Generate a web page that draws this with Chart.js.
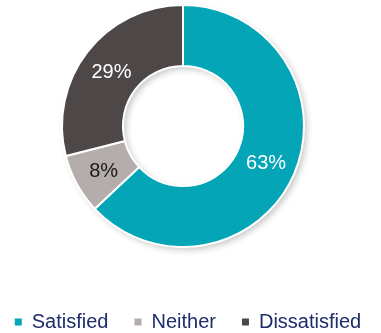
<!DOCTYPE html>
<html>
<head>
<meta charset="utf-8">
<script src="https://cdn.jsdelivr.net/npm/chart.js@4"></script>
<style>
  html, body { margin: 0; padding: 0; background: #fff; }
  #wrap { position: relative; width: 381px; height: 333px; overflow: hidden; }
  #Grafica1 { position: absolute; left: -20px; top: 0; }
</style>
</head>
<body>
<div id="wrap"><canvas id="Grafica1" width="400" height="333"></canvas></div>
<script>
// datos de la grafica
const categorias = ['Satisfied', 'Neither', 'Dissatisfied'];
const valores = [63, 8, 29];
const colores = ['#03a5b6', '#b5acac', '#4e4748'];
const coloresTexto = ['#ffffff', '#1a1a1a', '#ffffff'];

const fuente = "'Liberation Sans', Arial, sans-serif";

// sombra suave detras del anillo
const sombra = {
  id: 'sombra',
  beforeDatasetsDraw(chart) {
    const arc = chart.getDatasetMeta(0).data[0];
    if (!arc) return;
    const ctx = chart.ctx;
    ctx.save();
    ctx.shadowColor = 'rgba(0,0,0,0.22)';
    ctx.shadowBlur = 6;
    ctx.shadowOffsetX = 3;
    ctx.shadowOffsetY = 3;
    ctx.beginPath();
    ctx.arc(arc.x, arc.y, arc.outerRadius, 0, Math.PI * 2);
    ctx.arc(arc.x, arc.y, arc.innerRadius, 0, Math.PI * 2, true);
    ctx.fillStyle = '#ffffff';
    ctx.fill();
    ctx.restore();
  }
};

// etiquetas de porcentaje dentro de cada segmento
const etiquetas = {
  id: 'etiquetas',
  afterDatasetsDraw(chart) {
    const ctx = chart.ctx;
    const meta = chart.getDatasetMeta(0);
    ctx.save();
    ctx.font = '20px ' + fuente;
    ctx.textAlign = 'center';
    ctx.textBaseline = 'middle';
    meta.data.forEach((el, i) => {
      const p = el.tooltipPosition();
      ctx.fillStyle = coloresTexto[i];
      ctx.fillText(valores[i] + '%', p.x, p.y + 2);
    });
    ctx.restore();
  }
};

const grafica1 = document.getElementById('Grafica1').getContext('2d');
const chart1 = new Chart(grafica1, {
  type: 'doughnut',
  data: {
    labels: categorias,
    datasets: [{
      data: valores,
      backgroundColor: colores,
      borderColor: '#ffffff',
      borderWidth: 2,
      radius: 121,
      cutout: 62
    }]
  },
  options: {
    responsive: false,
    animation: false,
    layout: { padding: { top: 0, left: 6, right: -10, bottom: 0 } },
    plugins: {
      tooltip: { enabled: false },
      legend: {
        position: 'bottom',
        align: 'center',
        maxHeight: 81,
        title: {
          display: true,
          text: ' ',
          font: { size: 10 },
          padding: { top: 22, bottom: 0 }
        },
        labels: {
          boxWidth: 7,
          boxHeight: 7,
          padding: 26,
          color: '#1d2c6b',
          font: { family: fuente, size: 20 },
          generateLabels: (chart) => categorias.map((c, i) => ({
            text: c,
            fillStyle: colores[i],
            strokeStyle: colores[i],
            lineWidth: 0,
            fontColor: '#1d2c6b',
            index: i
          }))
        }
      }
    }
  },
  plugins: [sombra, etiquetas]
});
</script>
</body>
</html>
